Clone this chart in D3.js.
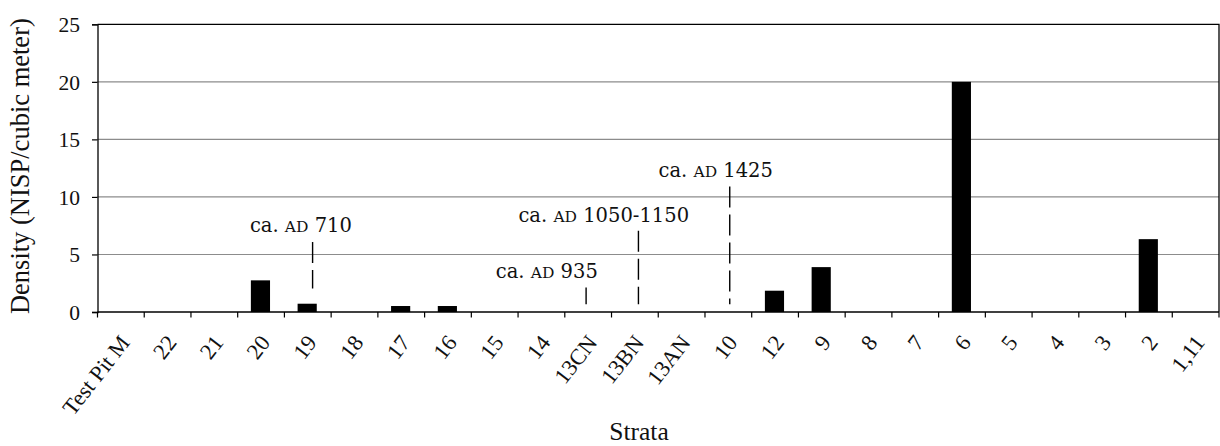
<!DOCTYPE html>
<html>
<head>
<meta charset="utf-8">
<script src="https://cdn.jsdelivr.net/npm/d3@7"></script>
<style>
  html, body { margin: 0; padding: 0; background: #fff; }
  svg { display: block; }
</style>
</head>
<body>
<svg id="chart" width="1220" height="446"></svg>
<script>
// Strata, in excavation order
const strata = ["Test Pit M", "22", "21", "20", "19", "18", "17", "16", "15", "14",
  "13CN", "13BN", "13AN", "10", "12", "9", "8", "7", "6", "5", "4", "3", "2", "1,11"];

// Density, NISP per cubic meter
const density = [0, 0, 0, 2.75, 0.72, 0, 0.52, 0.52, 0, 0,
  0, 0, 0, 0, 1.85, 3.9, 0, 0, 20, 0, 0, 0, 6.33, 0];

const yTicks = [0, 5, 10, 15, 20, 25];

// Date markers: label text, label centre (stratum index units) and baseline (density units)
const markerYear = ["710", "935", "1050-1150", "1425"];
const markerLabelPos = [4.353, 9.615, 10.834, 13.23];
const markerLabelBase = [6.92, 2.93, 7.84, 11.69];
// dashed marker lines: position (stratum index units), top and bottom (density units)
const markerLinePos = [4.603, 10.456, 11.576, 13.53];
const markerLineTop = [6.08, 2.13, 7.07, 10.9];
const markerLineBottom = [2.05, 0.67, 0.67, 0.67];

const svg = d3.select("#chart");
const plot = { left: 97.5, right: 1219, top: 24.3, bottom: 312 };
const axisFont = "'Liberation Serif', 'Times New Roman', serif";
const noteFont = "'DejaVu Serif', serif";

const x = d3.scaleBand().domain(strata).range([plot.left, plot.right]).padding(0);
const xi = d3.scaleLinear().domain([0, strata.length]).range([plot.left, plot.right]);
const y = d3.scaleLinear().domain([0, 25]).range([plot.bottom, plot.top]);

// horizontal gridlines
svg.append("g")
  .selectAll("line")
  .data(yTicks.filter(v => v > 0 && v < 25))
  .join("line")
  .attr("x1", plot.left).attr("x2", plot.right)
  .attr("y1", d => y(d)).attr("y2", d => y(d))
  .attr("stroke", "#8c8c8c").attr("stroke-width", 1.1);

// bars
const barW = x.bandwidth() * 0.41;
svg.append("g")
  .selectAll("rect")
  .data(strata.map((s, i) => ({ s, v: density[i] })).filter(d => d.v > 0))
  .join("rect")
  .attr("x", d => x(d.s) + (x.bandwidth() - barW) / 2 - 0.6)
  .attr("width", barW)
  .attr("y", d => y(d.v))
  .attr("height", d => y(0) - y(d.v))
  .attr("fill", "#000");

// plot frame (top and right)
svg.append("path")
  .attr("d", `M${plot.left},${plot.top}H${plot.right}V${plot.bottom}`)
  .attr("fill", "none").attr("stroke", "#000").attr("stroke-width", 1.3);

// y axis
const yAxis = svg.append("g")
  .attr("transform", `translate(${plot.left},0)`)
  .call(d3.axisLeft(y).tickValues(yTicks).tickSize(5.5).tickPadding(12));
yAxis.select(".domain").attr("stroke", "#000").attr("stroke-width", 1.3);
yAxis.selectAll(".tick line").attr("stroke", "#000").attr("stroke-width", 1.2);
yAxis.selectAll(".tick text")
  .attr("font-family", axisFont).attr("font-size", 21.5).attr("fill", "#111")
  .attr("dy", "0.34em");

// x axis: ticks on stratum boundaries
const xAxis = svg.append("g").attr("transform", `translate(0,${plot.bottom})`);
xAxis.append("line")
  .attr("x1", plot.left).attr("x2", plot.right)
  .attr("stroke", "#000").attr("stroke-width", 1.3);
xAxis.selectAll("line.tick")
  .data(d3.range(strata.length + 1))
  .join("line").attr("class", "tick")
  .attr("x1", d => xi(d)).attr("x2", d => xi(d))
  .attr("y1", 0).attr("y2", 5.5)
  .attr("stroke", "#000").attr("stroke-width", 1.2);
xAxis.selectAll("text")
  .data(strata)
  .join("text")
  .attr("transform", d => `translate(${x(d) + x.bandwidth() / 2 + 10},31) rotate(-52)`)
  .attr("text-anchor", "end")
  .attr("font-family", axisFont).attr("font-size", 22.5).attr("fill", "#111")
  .text(d => d);

// axis titles
svg.append("text")
  .attr("transform", `translate(28.5,${(plot.top + plot.bottom) / 2 - 2}) rotate(-90)`)
  .attr("text-anchor", "middle")
  .attr("font-family", axisFont).attr("font-size", 26.5).attr("fill", "#111")
  .text("Density (NISP/cubic meter)");

svg.append("text")
  .attr("x", 639).attr("y", 439.5)
  .attr("text-anchor", "middle")
  .attr("font-family", axisFont).attr("font-size", 25.5).attr("fill", "#111")
  .text("Strata");

// date markers
const markers = svg.append("g");
markerYear.forEach((yr, i) => {
  markers.append("line")
    .attr("x1", xi(markerLinePos[i])).attr("x2", xi(markerLinePos[i]))
    .attr("y1", y(markerLineTop[i])).attr("y2", y(markerLineBottom[i]))
    .attr("stroke", "#000").attr("stroke-width", 1.4)
    .attr("stroke-dasharray", "21,7");
  const t = markers.append("text")
    .attr("x", xi(markerLabelPos[i])).attr("y", y(markerLabelBase[i]))
    .attr("text-anchor", "middle")
    .attr("font-family", noteFont).attr("font-size", 19.5).attr("fill", "#111");
  t.append("tspan").text("ca. ");
  t.append("tspan").attr("font-size", 15.5).text("AD");
  t.append("tspan").text(" " + yr);
});
</script>
</body>
</html>
